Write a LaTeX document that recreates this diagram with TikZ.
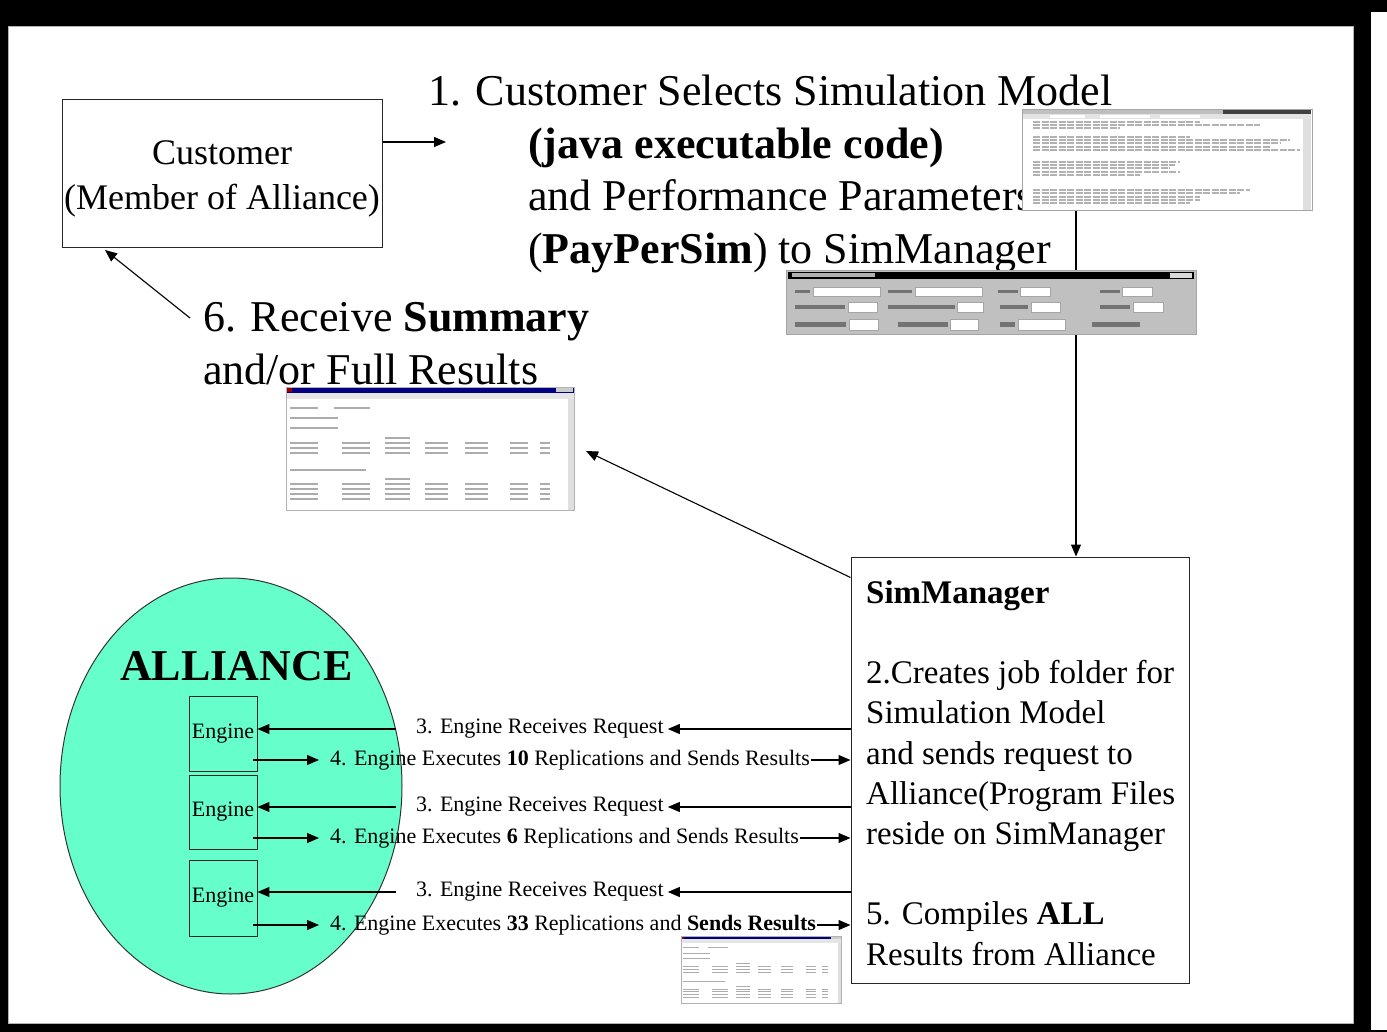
\documentclass[tikz,border=0pt]{standalone}
\usepackage{fontspec}
\setmainfont{Liberation Serif}
\usetikzlibrary{arrows.meta,shapes.geometric}
\definecolor{alli}{RGB}{102,255,204}
\definecolor{winblue}{RGB}{0,0,128}
\definecolor{wingray}{RGB}{192,192,192}
\newcommand{\reswindow}[1]{%
  \fill[white] (0,0) rectangle (288,123);
  \fill[winblue] (0,0) rectangle (288,6);
  \fill[red!60!black] (1,1) rectangle (6,5);
  \fill[gray!40] (270,1) rectangle (287,5);
  \fill[gray!20] (0,6) rectangle (288,12);
  \fill[gray!25] (282,12) rectangle (288,123);
  \draw[gray!60,line width=0.5pt] (0,0) rectangle (288,123);
  \foreach \yy/\aa/\bb in {21/4/32,21/48/84,31/4/52,41/4/52,83/4/80}
    \draw[gray!65,line width=#1] (\aa,\yy) -- (\bb,\yy);
  \foreach \yy in {51,92}
    \draw[gray!65,line width=#1] (99,\yy) -- (124,\yy);
  \foreach \yy in {56,61,66,97,102,107,112}
    \foreach \aa/\bb in {4/32,56/84,99/124,139/162,179/202,224/242,254/264}
      \draw[gray!65,line width=#1] (\aa,\yy) -- (\bb,\yy);
}
\begin{document}
\begin{tikzpicture}[x=1pt,y=-1pt,
  arr/.style={line width=1.1pt,-{Triangle[length=12pt,width=10pt]}},
  big/.style={font=\fontsize{44}{53}\selectfont,inner sep=0pt,anchor=base west},
  small/.style={font=\fontsize{22}{26}\selectfont,inner sep=0pt,anchor=west},
  engbox/.style={draw=black!85,line width=0.9pt,minimum width=68pt,inner sep=0pt,
    font=\fontsize{22}{26}\selectfont},
  boxline/.style={draw=black!85,line width=1pt}]
\useasboundingbox (0,0) rectangle (1387,1032);
% frame
\fill[black] (0,0) rectangle (1387,1032);
\fill[white] (8,26) rectangle (1353,1023);
\draw[gray!60,line width=0.6pt] (8,26) rectangle (1353,1023);
\fill[white] (1371,12) rectangle (1387,1030);

% customer
\node[boxline,minimum width=320pt,minimum height=148pt,inner sep=0pt] (cust) at (222,174) {};
\node[align=center,font=\fontsize{36}{45}\selectfont,inner sep=0pt] (custtxt) at (222,179)
  {Customer\\(Member of Alliance)};
\coordinate (c1tip) at (446,142);
\draw[arr] (cust.east |- c1tip) -- (c1tip);

% step 1 text
\node[big] (t1) at (428,106) {1. Customer Selects Simulation Model};
\node[big] (t2) at (528,159) {\bfseries (java executable code)};
\node[big] (t3) at (528,211) {and Performance Parameters};
\node[big] (t4) at (528,264) {(\textbf{PayPerSim}) to SimManager};

% step 6 text
\node[big] (t6a) at (203,331) {6. Receive \textbf{Summary}};
\node[big] (t6b) at (203,384) {and/or Full Results};
\coordinate (r6) at (190,318);
\coordinate (custTip) at (105,250);
\draw[arr] (r6) -- (custTip);

% SimManager
\node[boxline,minimum width=338pt,minimum height=426pt,inner sep=0pt] (sm) at (1020,770) {};
\node[anchor=north west,align=left,inner sep=0pt,
  font=\fontsize{33}{40.3}\selectfont] (smtxt) at (866,580)
  {\textbf{SimManager}\\[40pt]
   2.Creates job folder for\\
   Simulation Model\\
   and sends request to\\
   Alliance(Program Files\\
   reside on SimManager\\[40pt]
   5. Compiles \textbf{ALL}\\
   Results from Alliance};

% vertical arrow from code window to SimManager
\coordinate (vtop) at (1076,210);
\draw[arr] (vtop) -- (vtop |- sm.north);

% code window screenshot
\fill[white] (1022,109) rectangle (1312,210);
\draw[gray!70,line width=0.6pt] (1022,109) rectangle (1312,210);
\fill[gray!50] (1023,110) rectangle (1223,114);
\fill[black!75] (1223,110) rectangle (1311,114);
\fill[gray!22] (1023,114) rectangle (1311,119);
\fill[white] (1050,115) rectangle (1085,118);
\fill[white] (1100,115) rectangle (1150,118);
\fill[white] (1160,115) rectangle (1200,118);
\fill[gray!25] (1303,119) rectangle (1311,210);
\foreach \yy/\ll in {122/1200,125/1260,128/1120,137/1190,140/1290,143/1280,147/1270,150/1300,
  162/1180,165/1175,168/1170,172/1180,175/1140,190/1250,193/1240,197/1200,200/1200,203/1190}
  \draw[gray!60,line width=1.3pt,dash pattern=on 7pt off 1.5pt] (1033,\yy) -- (\ll,\yy);

% PayPerSim form screenshot
\fill[wingray] (786,270) rectangle (1196,334);
\draw[gray!70,line width=0.6pt] (786,270) rectangle (1196,334);
\fill[black] (788,272) rectangle (1194,279);
\fill[gray!60] (792,273) rectangle (875,277.5);
\fill[gray!30] (1170,273) rectangle (1192,278);
\foreach \ya/\yb/\items in {287/296/{795/810/813/880,888/912/915/982,998/1018/1020/1050,1100/1120/1122/1152},
  302/312/{795/845/848/877,888/955/957/983,1000/1028/1031/1060,1100/1130/1133/1163},
  319/330/{795/846/849/878,898/948/950/978,1000/1015/1018/1065}}{
  \foreach \la/\lb/\fa/\fb in \items {
    \fill[black!55] (\la,\ya+3) rectangle (\lb,\yb-3);
    \fill[white] (\fa,\ya) rectangle (\fb,\yb);
    \draw[gray!70,line width=0.4pt] (\fa,\ya) rectangle (\fb,\yb);
  }
}
\fill[black!55] (1092,322) rectangle (1140,327);

% results window screenshots
\begin{scope}[shift={(286,387)}]
  \reswindow{1.2pt}
\end{scope}
\begin{scope}[shift={(681,936)},xscale=0.556,yscale=0.545]
  \reswindow{0.7pt}
\end{scope}
\coordinate (resTip) at (586,451);
\draw[arr] ([yshift=-21pt]sm.north west) -- (resTip);

% Alliance
\node[ellipse,draw=black!80,line width=1pt,fill=alli,minimum width=342pt,
  minimum height=416pt,inner sep=0pt] (all) at (231,786) {};
\node[font=\fontsize{44}{53}\selectfont\bfseries,inner sep=0pt,anchor=base west]
  (alltxt) at (120,680) {ALLIANCE};
\node[engbox,minimum height=75pt] (eng1) at (223,733.5) {Engine};
\node[engbox,minimum height=74pt] (eng2) at (223,812) {Engine};
\node[engbox,minimum height=76pt] (eng3) at (223,898) {Engine};

% requests
\node[small] (rq1) at (416,729) {3. Engine Receives Request};
\node[small] (rq2) at (416,807) {3. Engine Receives Request};
\node[small] (rq3) at (416,892) {3. Engine Receives Request};
\node[small] (ex1) at (330,760) {4. Engine Executes \textbf{10} Replications and Sends Results};
\node[small] (ex2) at (330,838) {4. Engine Executes \textbf{6} Replications and Sends Results};
\node[small] (ex3) at (330,925) {4. Engine Executes \textbf{33} Replications and \textbf{Sends Results}};
\foreach \i in {1,2,3}{
  \draw[arr] (sm.west |- rq\i.east) -- ([xshift=4pt]rq\i.east);
  \draw[arr] ([xshift=-20pt]rq\i.west) -- (eng\i.east |- rq\i.west);
  \draw[arr] ([xshift=-4pt]eng\i.east |- ex\i.west) -- ([xshift=-11pt]ex\i.west);
  \draw[arr] ([xshift=1pt]ex\i.east) -- (sm.west |- ex\i.east);
}
\end{tikzpicture}
\end{document}
